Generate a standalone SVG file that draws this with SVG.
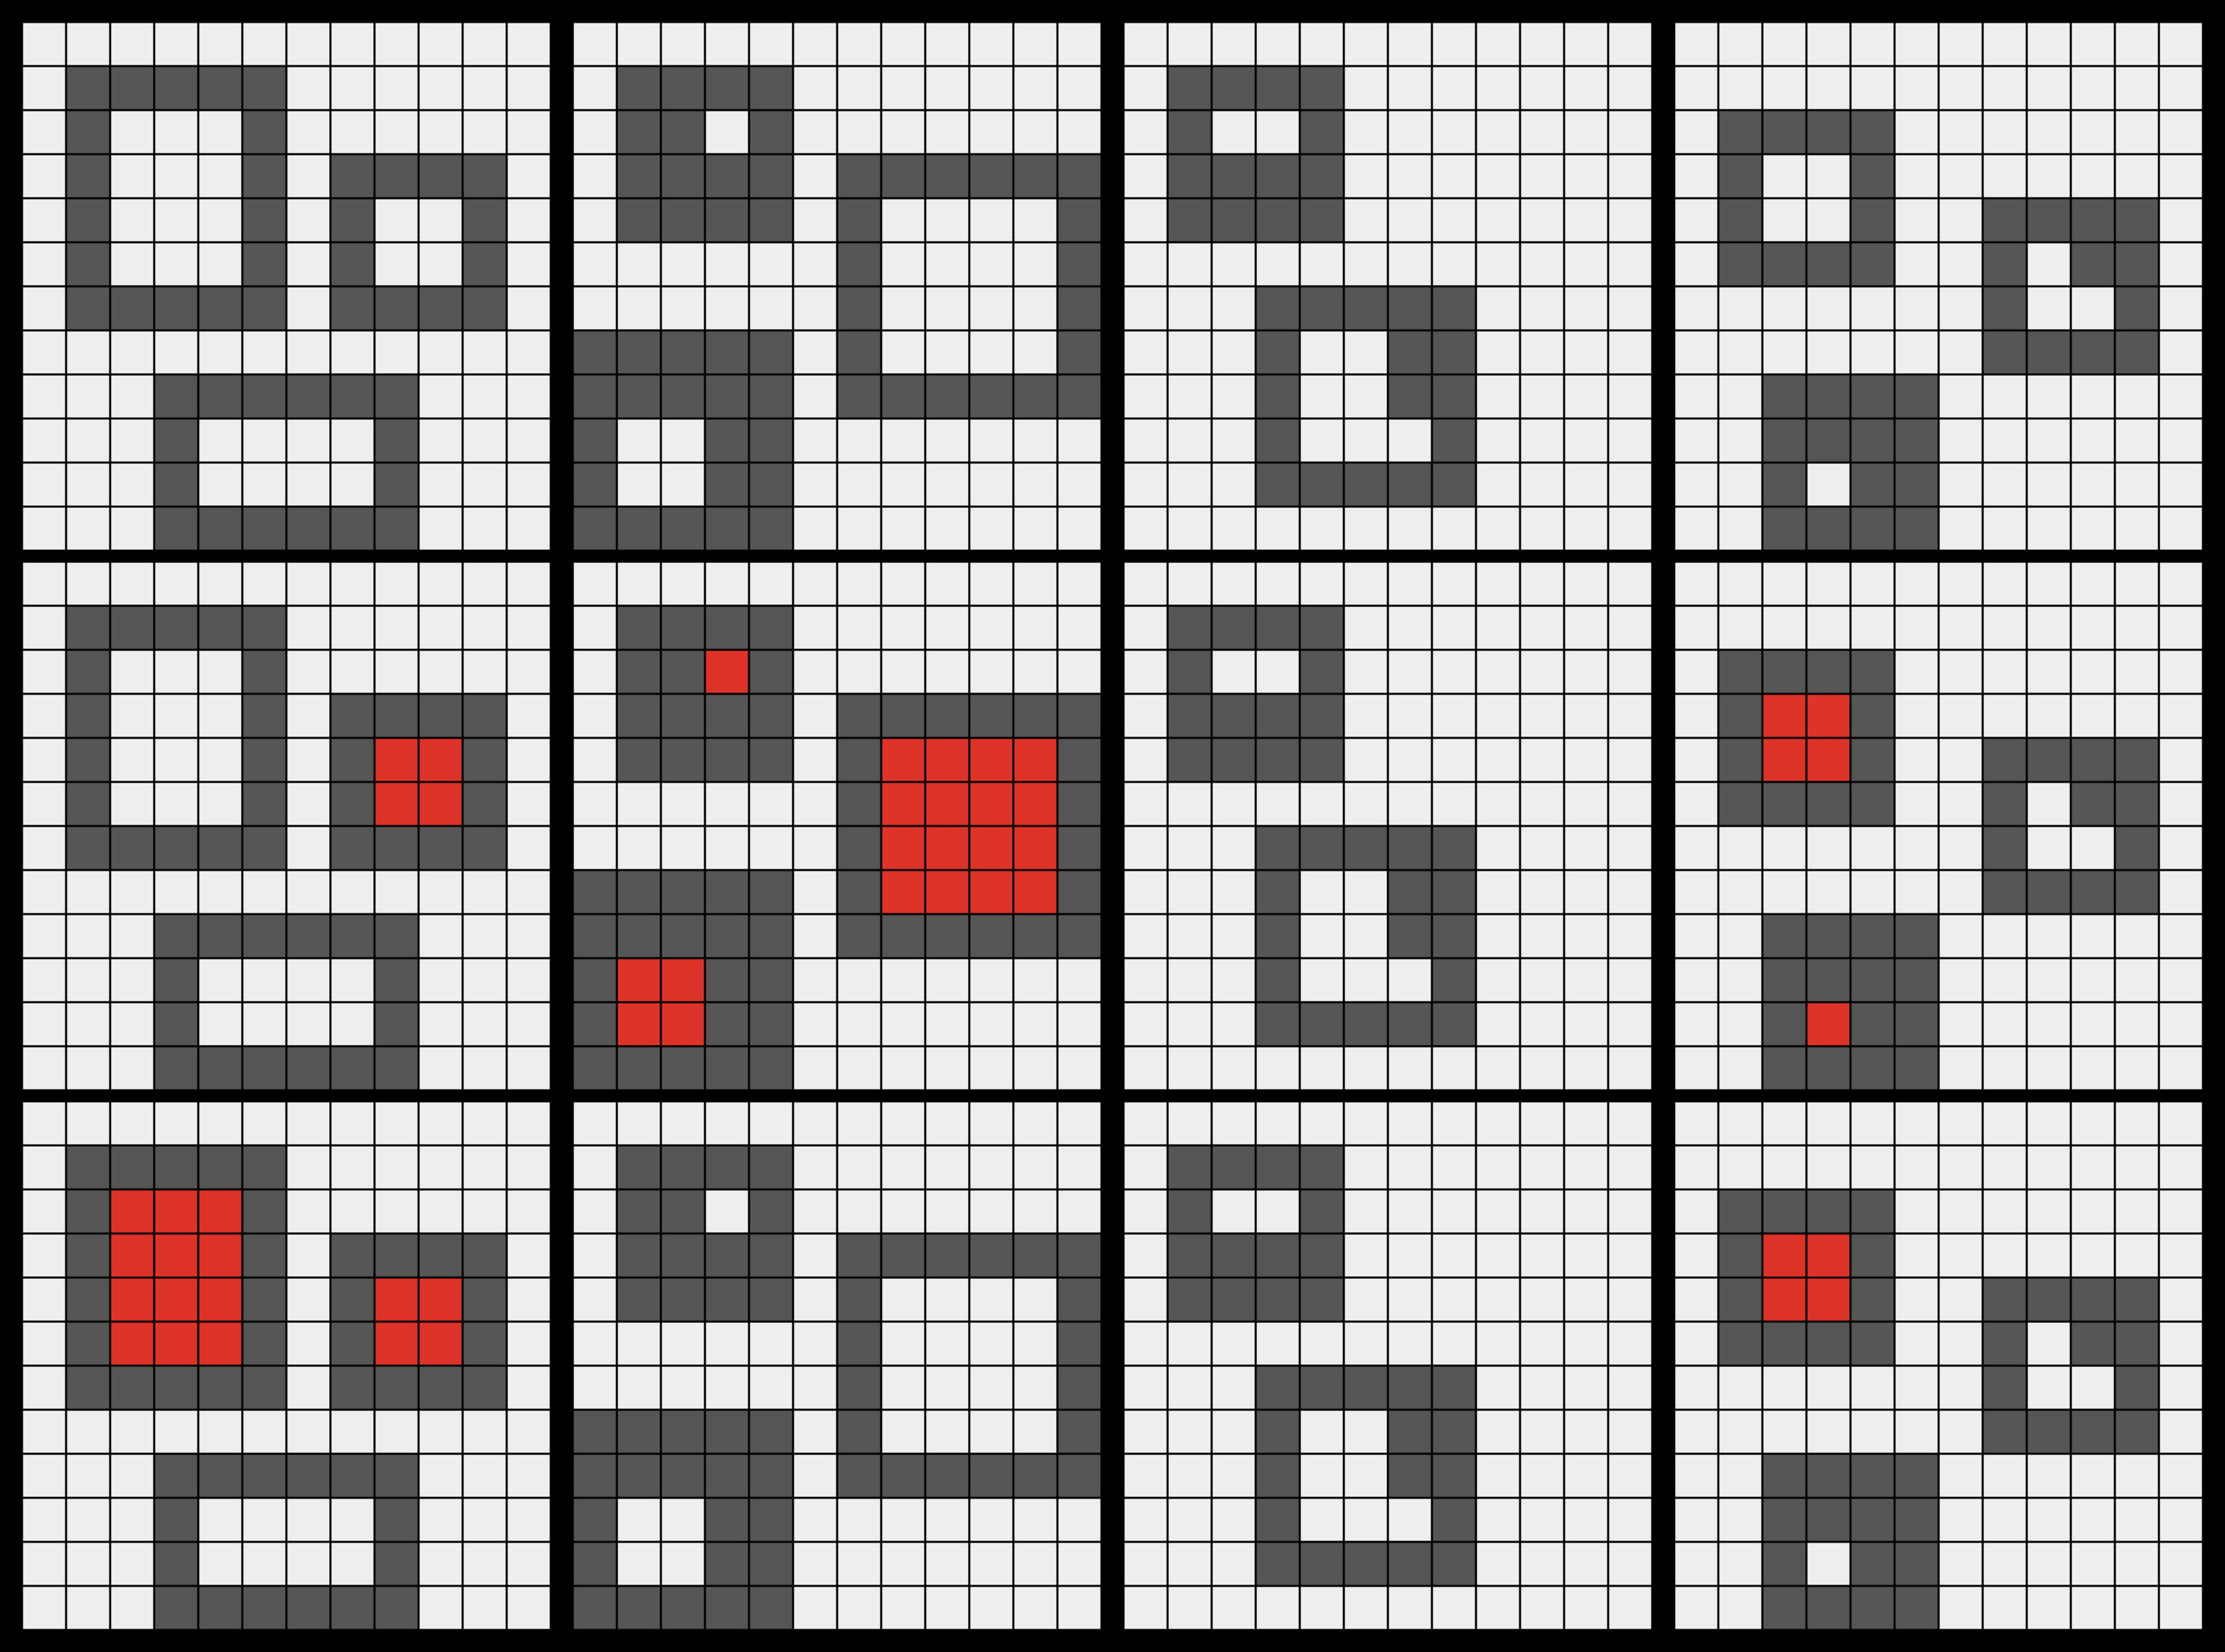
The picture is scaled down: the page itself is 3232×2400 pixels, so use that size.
<svg xmlns="http://www.w3.org/2000/svg" width="3232" height="2400" viewBox="0 0 3232 2400">
<style>
.bg{fill:#eeeeee}
.d{fill:#555555}
.l{fill:#eeeeee}
.r{fill:#dd3328}
.g{fill:url(#grid)}
</style>
<defs>
<pattern id="grid" patternUnits="userSpaceOnUse" x="0" y="0" width="64" height="64">
<rect x="0" y="0" width="64" height="64" fill="none" stroke="#000000" stroke-width="3"/>
</pattern>
<g id="base"><rect class="bg" x="0" y="0" width="768" height="768"/></g>
<g id="gridover"><rect class="g" x="0" y="0" width="768" height="768"/></g>
</defs>
<rect x="0" y="0" width="3232" height="2400" fill="#000000"/>

<g id="panel-r1-c1" transform="translate(32,32)">
<use href="#base"/>
<g transform="scale(64)">
<rect class="d" x="1" y="1" width="5" height="6"/><rect class="l" x="2" y="2" width="3" height="4"/>
<rect class="d" x="7" y="3" width="4" height="4"/><rect class="l" x="8" y="4" width="2" height="2"/>
<rect class="d" x="3" y="8" width="6" height="4"/><rect class="l" x="4" y="9" width="4" height="2"/>
</g>
<use href="#gridover"/>
</g>

<g id="panel-r2-c1" transform="translate(32,816)">
<use href="#base"/>
<g transform="scale(64)">
<rect class="d" x="1" y="1" width="5" height="6"/><rect class="l" x="2" y="2" width="3" height="4"/>
<rect class="d" x="7" y="3" width="4" height="4"/><rect class="r" x="8" y="4" width="2" height="2"/>
<rect class="d" x="3" y="8" width="6" height="4"/><rect class="l" x="4" y="9" width="4" height="2"/>
</g>
<use href="#gridover"/>
</g>

<g id="panel-r3-c1" transform="translate(32,1600)">
<use href="#base"/>
<g transform="scale(64)">
<rect class="d" x="1" y="1" width="5" height="6"/><rect class="r" x="2" y="2" width="3" height="4"/>
<rect class="d" x="7" y="3" width="4" height="4"/><rect class="r" x="8" y="4" width="2" height="2"/>
<rect class="d" x="3" y="8" width="6" height="4"/><rect class="l" x="4" y="9" width="4" height="2"/>
</g>
<use href="#gridover"/>
</g>

<g id="panel-r1-c2" transform="translate(832,32)">
<use href="#base"/>
<g transform="scale(64)">
<rect class="d" x="1" y="1" width="4" height="4"/><rect class="l" x="3" y="2" width="1" height="1"/>
<rect class="d" x="6" y="3" width="6" height="6"/><rect class="l" x="7" y="4" width="4" height="4"/>
<rect class="d" x="0" y="7" width="5" height="5"/><rect class="l" x="1" y="9" width="2" height="2"/>
</g>
<use href="#gridover"/>
</g>

<g id="panel-r2-c2" transform="translate(832,816)">
<use href="#base"/>
<g transform="scale(64)">
<rect class="d" x="1" y="1" width="4" height="4"/><rect class="r" x="3" y="2" width="1" height="1"/>
<rect class="d" x="6" y="3" width="6" height="6"/><rect class="r" x="7" y="4" width="4" height="4"/>
<rect class="d" x="0" y="7" width="5" height="5"/><rect class="r" x="1" y="9" width="2" height="2"/>
</g>
<use href="#gridover"/>
</g>

<g id="panel-r3-c2" transform="translate(832,1600)">
<use href="#base"/>
<g transform="scale(64)">
<rect class="d" x="1" y="1" width="4" height="4"/><rect class="l" x="3" y="2" width="1" height="1"/>
<rect class="d" x="6" y="3" width="6" height="6"/><rect class="l" x="7" y="4" width="4" height="4"/>
<rect class="d" x="0" y="7" width="5" height="5"/><rect class="l" x="1" y="9" width="2" height="2"/>
</g>
<use href="#gridover"/>
</g>

<g id="panel-r1-c3" transform="translate(1632,32)">
<use href="#base"/>
<g transform="scale(64)">
<rect class="d" x="1" y="1" width="4" height="4"/><rect class="l" x="2" y="2" width="2" height="1"/>
<rect class="d" x="3" y="6" width="5" height="5"/><rect class="l" x="4" y="7" width="2" height="3"/><rect class="l" x="6" y="9" width="1" height="1"/>
</g>
<use href="#gridover"/>
</g>

<g id="panel-r2-c3" transform="translate(1632,816)">
<use href="#base"/>
<g transform="scale(64)">
<rect class="d" x="1" y="1" width="4" height="4"/><rect class="l" x="2" y="2" width="2" height="1"/>
<rect class="d" x="3" y="6" width="5" height="5"/><rect class="l" x="4" y="7" width="2" height="3"/><rect class="l" x="6" y="9" width="1" height="1"/>
</g>
<use href="#gridover"/>
</g>

<g id="panel-r3-c3" transform="translate(1632,1600)">
<use href="#base"/>
<g transform="scale(64)">
<rect class="d" x="1" y="1" width="4" height="4"/><rect class="l" x="2" y="2" width="2" height="1"/>
<rect class="d" x="3" y="6" width="5" height="5"/><rect class="l" x="4" y="7" width="2" height="3"/><rect class="l" x="6" y="9" width="1" height="1"/>
</g>
<use href="#gridover"/>
</g>

<g id="panel-r1-c4" transform="translate(2432,32)">
<use href="#base"/>
<g transform="scale(64)">
<rect class="d" x="1" y="2" width="4" height="4"/><rect class="l" x="2" y="3" width="2" height="2"/>
<rect class="d" x="7" y="4" width="4" height="4"/><rect class="l" x="8" y="5" width="1" height="1"/><rect class="l" x="8" y="6" width="2" height="1"/>
<rect class="d" x="2" y="8" width="4" height="4"/><rect class="l" x="3" y="10" width="1" height="1"/>
</g>
<use href="#gridover"/>
</g>

<g id="panel-r2-c4" transform="translate(2432,816)">
<use href="#base"/>
<g transform="scale(64)">
<rect class="d" x="1" y="2" width="4" height="4"/><rect class="r" x="2" y="3" width="2" height="2"/>
<rect class="d" x="7" y="4" width="4" height="4"/><rect class="l" x="8" y="5" width="1" height="1"/><rect class="l" x="8" y="6" width="2" height="1"/>
<rect class="d" x="2" y="8" width="4" height="4"/><rect class="r" x="3" y="10" width="1" height="1"/>
</g>
<use href="#gridover"/>
</g>

<g id="panel-r3-c4" transform="translate(2432,1600)">
<use href="#base"/>
<g transform="scale(64)">
<rect class="d" x="1" y="2" width="4" height="4"/><rect class="r" x="2" y="3" width="2" height="2"/>
<rect class="d" x="7" y="4" width="4" height="4"/><rect class="l" x="8" y="5" width="1" height="1"/><rect class="l" x="8" y="6" width="2" height="1"/>
<rect class="d" x="2" y="8" width="4" height="4"/><rect class="l" x="3" y="10" width="1" height="1"/>
</g>
<use href="#gridover"/>
</g>
</svg>
